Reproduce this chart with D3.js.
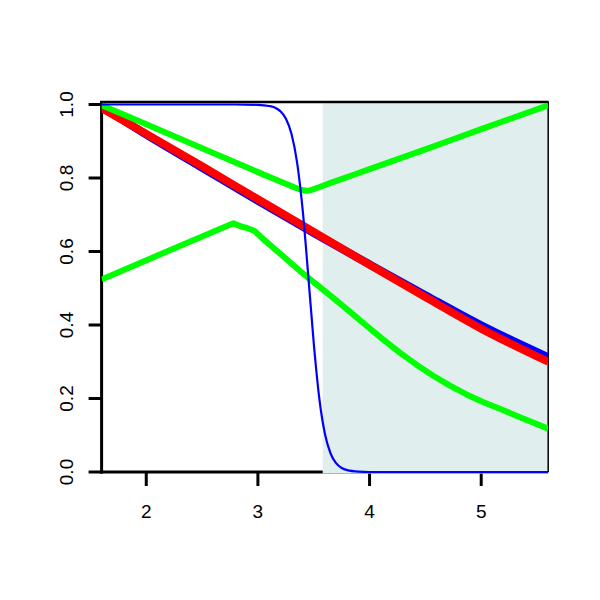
<!DOCTYPE html>
<html>
<head>
<meta charset="utf-8">
<script src="https://cdn.jsdelivr.net/npm/d3@7"></script>
<style>
  html, body { margin: 0; padding: 0; background: #ffffff; }
  svg { display: block; }
  text { font-family: "Liberation Sans", Arial, Helvetica, sans-serif; fill: #000; }
</style>
</head>
<body>
<svg id="chart" width="600" height="600"></svg>
<script>
// ---- data ----
const xTicks = [2, 3, 4, 5];
const xTickLabels = ["2", "3", "4", "5"];
const yTicks = [0, 0.2, 0.4, 0.6, 0.8, 1.0];
const yTickLabels = ["0.0", "0.2", "0.4", "0.6", "0.8", "1.0"];
const xDomain = [1.6, 5.6];
const yDomain = [0, 1];
const shadedRange = [3.58, 5.6];

// thick blue, nearly straight
const blueLineX = [1.6, 2.0, 2.5, 3.0, 3.5, 4.0, 4.5, 5.0, 5.6];
const blueLineY = [0.995, 0.918, 0.828, 0.738, 0.650, 0.565, 0.481, 0.399, 0.312];

// thick red
const redX = [1.6, 2.0, 2.5, 3.0, 3.5, 4.0, 4.5, 5.0, 5.6];
const redY = [0.990, 0.920, 0.832, 0.742, 0.653, 0.564, 0.476, 0.390, 0.300];

// upper green (V shape)
const greenUpX = [1.6, 2.0, 2.5, 3.0, 3.3, 3.4, 3.44, 3.5, 3.645, 4.0, 4.5, 5.0, 5.6];
const greenUpY = [0.998, 0.946, 0.881, 0.816, 0.778, 0.767, 0.765, 0.770, 0.786, 0.824, 0.878, 0.933, 0.998];

// lower green (peak then decay)
const greenLowX = [1.6, 2.2, 2.78, 2.85, 2.92, 2.97, 3.05, 3.2, 3.38, 3.53, 3.674, 3.82, 3.973, 4.12, 4.271, 4.42, 4.57, 4.72, 4.868, 5.02, 5.167, 5.38, 5.6];
const greenLowY = [0.524, 0.602, 0.677, 0.668, 0.662, 0.656, 0.633, 0.594, 0.546, 0.509, 0.474, 0.437, 0.398, 0.361, 0.325, 0.292, 0.262, 0.235, 0.211, 0.190, 0.172, 0.145, 0.118];

// thin blue step-like curve
const sigX = [1.6, 2.8, 3.0, 3.1, 3.15, 3.2, 3.25, 3.3, 3.35, 3.4, 3.45, 3.5, 3.55, 3.6, 3.65, 3.7, 3.75, 3.8, 3.9, 4.0, 5.6];
const sigY = [1.0, 1.0, 0.999, 0.996, 0.992, 0.982, 0.962, 0.921, 0.844, 0.716, 0.538, 0.351, 0.200, 0.104, 0.051, 0.024, 0.011, 0.005, 0.001, 0.0, 0.0];

// ---- drawing ----
const svg = d3.select("#chart");
const x = d3.scaleLinear().domain(xDomain).range([101.6, 548.2]);
const y = d3.scaleLinear().domain(yDomain).range([472, 104.5]);
const plotTop = 102;

const zip = (xa, ya) => xa.map((v, i) => [v, ya[i]]);
const line = d3.line().x(d => x(d[0])).y(d => y(d[1])).curve(d3.curveMonotoneX);
const straightLine = d3.line().x(d => x(d[0])).y(d => y(d[1])).curve(d3.curveLinear);

// axes lines
const axisG = svg.append("g");
axisG.append("line").attr("x1", x(xDomain[0])).attr("x2", x(xDomain[0]))
  .attr("y1", plotTop - 1).attr("y2", y(0) + 1.5).attr("stroke", "#000").attr("stroke-width", 3);
axisG.append("line").attr("x1", x(xDomain[0]) - 1.5).attr("x2", x(xDomain[1]))
  .attr("y1", y(0)).attr("y2", y(0)).attr("stroke", "#000").attr("stroke-width", 3);

// x ticks
xTicks.forEach((t, i) => {
  axisG.append("line").attr("x1", x(t)).attr("x2", x(t)).attr("y1", y(0)).attr("y2", y(0) + 14)
    .attr("stroke", "#000").attr("stroke-width", 3);
  axisG.append("text").attr("x", x(t)).attr("y", 517.5).attr("text-anchor", "middle")
    .attr("font-size", 19).text(xTickLabels[i]);
});
// y ticks
yTicks.forEach((t, i) => {
  axisG.append("line").attr("x1", x(xDomain[0]) - 13).attr("x2", x(xDomain[0])).attr("y1", y(t)).attr("y2", y(t))
    .attr("stroke", "#000").attr("stroke-width", 3);
  axisG.append("text").attr("transform", `translate(72.5,${y(t)}) rotate(-90)`)
    .attr("text-anchor", "middle").attr("font-size", 19).text(yTickLabels[i]);
});

// shaded region
svg.append("rect").attr("x", x(shadedRange[0])).attr("y", plotTop + 1.3)
  .attr("width", x(shadedRange[1]) - x(shadedRange[0])).attr("height", y(0) + 1.5 - plotTop - 1.3)
  .attr("fill", "#E0EEEE");

// box top and right
svg.append("line").attr("x1", x(xDomain[0]) - 1.5).attr("x2", x(xDomain[1]) + 0.5)
  .attr("y1", plotTop).attr("y2", plotTop).attr("stroke", "#000").attr("stroke-width", 2.5);
svg.append("line").attr("x1", x(xDomain[1])).attr("x2", x(xDomain[1]))
  .attr("y1", plotTop).attr("y2", y(0)).attr("stroke", "#000").attr("stroke-width", 1.5);

svg.append("defs").append("clipPath").attr("id", "clip")
  .append("rect").attr("x", x(xDomain[0])).attr("y", plotTop - 3)
  .attr("width", x(xDomain[1]) - x(xDomain[0])).attr("height", y(0) - plotTop + 6);

const g = svg.append("g").attr("clip-path", "url(#clip)");
g.append("path").datum(zip(blueLineX, blueLineY)).attr("d", line)
  .attr("fill", "none").attr("stroke", "#0000FF").attr("stroke-width", 8);
g.append("path").datum(zip(redX, redY)).attr("d", line)
  .attr("fill", "none").attr("stroke", "#FF0000").attr("stroke-width", 8);
g.append("path").datum(zip(greenUpX, greenUpY)).attr("d", line)
  .attr("fill", "none").attr("stroke", "#00FF00").attr("stroke-width", 6);
g.append("path").datum(zip(greenLowX, greenLowY)).attr("d", straightLine)
  .attr("fill", "none").attr("stroke", "#00FF00").attr("stroke-width", 6)
  .attr("stroke-linejoin", "round");
g.append("path").datum(zip(sigX, sigY)).attr("d", line)
  .attr("fill", "none").attr("stroke", "#0000FF").attr("stroke-width", 2.2);
</script>
</body>
</html>
